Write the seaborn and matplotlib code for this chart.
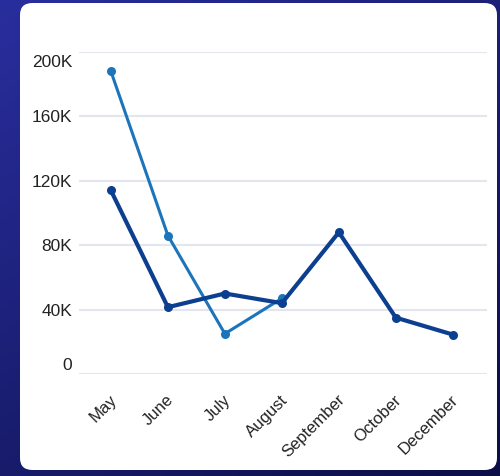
import numpy as np
import pandas as pd
import matplotlib
matplotlib.use("Agg")
import matplotlib.pyplot as plt
import matplotlib.transforms as mtransforms
from matplotlib.patches import FancyBboxPatch
import seaborn as sns

months = ["May", "June", "July", "August", "September", "October", "December"]
series_a = [188000, 86000, 25000, 47000, np.nan, np.nan, np.nan]   # light blue
series_b = [114000, 41500, 50000, 44000, 88000, 35000, 24500]      # dark blue
yticks = [0, 40000, 80000, 120000, 160000, 200000]
ytick_labels = ["0", "40K", "80K", "120K", "160K", "200K"]

df = pd.DataFrame({
    "month": months * 2,
    "value": series_a + series_b,
    "series": ["A"] * len(months) + ["B"] * len(months),
})

sns.set_theme(style="white")
plt.rcParams["font.family"] = ["Liberation Sans", "DejaVu Sans"]

W, H = 500, 476
fig = plt.figure(figsize=(W / 100, H / 100), dpi=100)

# background gradient
bg = fig.add_axes([0, 0, 1, 1])
yy, xx = np.mgrid[0:1:200j, 0:1:200j]
base = np.array([0.16, 0.18, 0.62])
dark = np.array([0.05, 0.06, 0.28])
t = np.clip(0.45 * xx + 0.6 * yy, 0, 1)
img = base[None, None, :] * (1 - t[..., None]) + dark[None, None, :] * t[..., None]
bg.imshow(img, extent=[0, 1, 0, 1], aspect="auto", origin="upper")
bg.set_axis_off()

# white card
card = FancyBboxPatch((20 / W, 1 - 470 / H), (497 - 20) / W, (470 - 3) / H,
                      boxstyle="round,pad=0,rounding_size=0.025",
                      transform=fig.transFigure, facecolor="white",
                      edgecolor="none", zorder=1)
bg.add_artist(card)

ax = fig.add_axes([79 / W, 1 - 374 / H, (487 - 79) / W, (374 - 52) / H])
ax.set_facecolor("none")

sns.lineplot(data=df, x="month", y="value", hue="series", sort=False,
             palette={"A": "#1c74bb", "B": "#0c3f8f"}, marker="o",
             markersize=6.5, markeredgewidth=0, ax=ax, legend=False)
lws = {0: 2.2, 1: 3.0}
for i, line in enumerate(ax.get_lines()):
    line.set_linewidth(lws.get(i, 2.5))
    line.set_clip_on(False)

ax.set_xlim(-0.56, 6.6)
ax.set_ylim(0, 200000)
ax.set_yticks(yticks)
ax.set_yticklabels(ytick_labels)
ax.grid(axis="y", color="#e3e6ee", linewidth=1.5)
ax.grid(axis="x", visible=False)
for s in ax.spines.values():
    s.set_visible(False)
ax.set_xlabel("")
ax.set_ylabel("")
ax.tick_params(axis="y", length=0, pad=5, labelsize=12.5, labelcolor="#222222")
ax.tick_params(axis="x", length=0, pad=13, labelsize=12, labelcolor="#222222")

for lab in ax.get_xticklabels():
    lab.set_rotation(45)
    lab.set_ha("right")
    lab.set_va("top")
    lab.set_rotation_mode("anchor")
    lab.set_transform(lab.get_transform() + mtransforms.ScaledTranslation(-0.02, 0.0, fig.dpi_scale_trans))

ylabs = ax.get_yticklabels()
ylabs[0].set_transform(ylabs[0].get_transform() + mtransforms.ScaledTranslation(0, 0.10, fig.dpi_scale_trans))
ylabs[-1].set_transform(ylabs[-1].get_transform() + mtransforms.ScaledTranslation(0, -0.09, fig.dpi_scale_trans))

fig.savefig("out.png", dpi=100)
